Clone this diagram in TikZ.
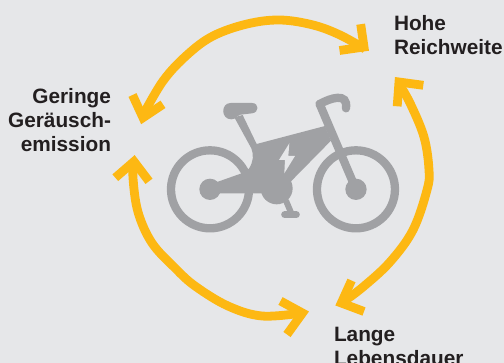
\documentclass[tikz,border=0pt]{standalone}
\usepackage{fontspec}
\setmainfont{Liberation Sans}
\definecolor{bgc}{HTML}{E6E7E9}
\definecolor{arr}{HTML}{FDB813}
\definecolor{bikec}{HTML}{A0A1A4}
\definecolor{txt}{HTML}{231F20}
\tikzset{
  arcline/.style={draw=arr,line width=8.8pt,line cap=butt,smooth,tension=0.6},
  chevron/.style={draw=arr,line width=8.8pt,line join=miter,miter limit=10,line cap=butt},
  lab/.style={inner sep=0pt,outer sep=0pt,text=txt,font=\fontsize{20.8}{24}\selectfont\bfseries},
  bikeline/.style={draw=bikec,line width=8.3pt},
  bikecap/.style={draw=bikec,line cap=round}
}
\begin{document}
\begin{tikzpicture}[x=1pt,y=-1pt]
\useasboundingbox (0,0) rectangle (504,363);
\fill[bgc] (0,0) rectangle (504,363);
% labels
\node[lab,anchor=north west,align=left] (hohe) at (394,15) {Hohe\\Reichweite};
\node[lab,anchor=north east,align=right] (ger) at (111,88) {Geringe\\Geräusch-\\emission};
\node[lab,anchor=north west,align=left] (lange) at (334,327) {Lange\\Lebensdauer};
% top arrow
\coordinate (a1) at (142,117);
\coordinate (a2) at (365,49);
\draw[arcline] plot coordinates {(a1) (163,81) (187,55) (213,36) (247,24) (280,20) (313,25) (340,35) (a2)};
\draw[chevron] (132.5,95) -- (143,117.7) -- (163,104.3);
\draw[chevron] (360.7,24.2) -- (364,47) -- (339.5,50.5);
% right arrow
\coordinate (b1) at (399,84);
\coordinate (b2) at (343,302);
\draw[arcline] plot coordinates {(b1) (410,103) (424,137) (429,170) (427,190) (413,230) (390,262) (363,287) (b2)};
\draw[chevron] (423.3,85.3) -- (399,82) -- (397.2,106.3);
\draw[chevron] (351.5,280.5) -- (341.3,303) -- (364,311.5);
% left arrow
\coordinate (c1) at (134,163);
\coordinate (c2) at (302,313);
\draw[arcline] plot coordinates {(c1) (133,178) (138,212) (152,243) (175,268) (195,286) (228,306) (262,316) (c2)};
\draw[chevron] (115.3,177.7) -- (134,161.5) -- (149,181.3);
\draw[chevron] (280.5,301) -- (302.5,313) -- (287,334.5);
% bicycle
\begin{scope}[shift={(150,80)},x=0.3333pt,y=-0.3333pt]
\draw[bikeline] (180,328) circle (117);
\draw[bikeline] (618,328) circle (117);
\fill[bikec] (180,328) circle (32);
\fill[bikec] (618,328) circle (32);
\fill[bikec] (380,325) circle (48);
\fill[bikec] (190,310) -- (275,280) -- (297,266) .. controls (310,245) and (312,225) .. (304,205) -- (253,112) -- (278,105) -- (320,192) -- (525,138) -- (543,182) -- (425,302) -- (400,340) -- (180,340) -- cycle;
\draw[bikecap,line width=8.3pt] (509,72) -- (618,328);
\draw[bikecap,line width=8.3pt] (509,72) .. controls (540,55) and (595,35) .. (588,85);
\fill[bikec] (242,69) -- (306,69) .. controls (328,69) and (328,98) .. (306,100) -- (272,104) .. controls (262,106) and (258,118) .. (244,118) .. controls (212,118) and (212,69) .. (242,69) -- cycle;
\draw[bikeline,line width=6pt] (408,362) -- (424,400);
\draw[bikecap,line width=7pt] (404,404) -- (439,404);
\fill[bgc] (418,190) -- (387,240) -- (405,240) -- (403,280) -- (435,228) -- (415,228) -- cycle;
\end{scope}
\end{tikzpicture}
\end{document}
